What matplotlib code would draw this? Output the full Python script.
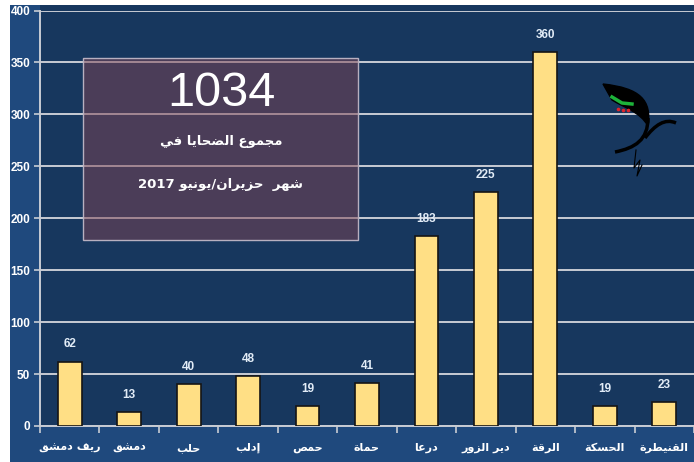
import re
import matplotlib
matplotlib.use("Agg")
import matplotlib.pyplot as plt
from matplotlib.patches import Rectangle, PathPatch
from matplotlib.path import Path
from matplotlib.lines import Line2D

# ---------------- data ----------------
categories = ["ريف دمشق", "دمشق", "حلب", "إدلب", "حمص", "حماة",
              "درعا", "دير الزور", "الرقة", "الحسكة", "القنيطرة"]
values = [62, 13, 40, 48, 19, 41, 183, 225, 360, 19, 23]
yticks = [0, 50, 100, 150, 200, 250, 300, 350, 400]
total_text = "1034"
box_line1 = "مجموع الضحايا في"
box_line2 = "شهر  حزيران/يونيو 2017"

# ---------------- minimal Arabic shaping (presentation forms) ----------------
FORMS = {
    '\u0622': (0xFE81, 2), '\u0623': (0xFE83, 2), '\u0625': (0xFE87, 2),
    '\u0627': (0xFE8D, 2), '\u0628': (0xFE8F, 4), '\u0629': (0xFE93, 2),
    '\u062A': (0xFE95, 4), '\u062B': (0xFE99, 4), '\u062C': (0xFE9D, 4),
    '\u062D': (0xFEA1, 4), '\u062E': (0xFEA5, 4), '\u062F': (0xFEA9, 2),
    '\u0630': (0xFEAB, 2), '\u0631': (0xFEAD, 2), '\u0632': (0xFEAF, 2),
    '\u0633': (0xFEB1, 4), '\u0634': (0xFEB5, 4), '\u0635': (0xFEB9, 4),
    '\u0636': (0xFEBD, 4), '\u0637': (0xFEC1, 4), '\u0638': (0xFEC5, 4),
    '\u0639': (0xFEC9, 4), '\u063A': (0xFECD, 4), '\u0641': (0xFED1, 4),
    '\u0642': (0xFED5, 4), '\u0643': (0xFED9, 4), '\u0644': (0xFEDD, 4),
    '\u0645': (0xFEE1, 4), '\u0646': (0xFEE5, 4), '\u0647': (0xFEE9, 4),
    '\u0648': (0xFEED, 2), '\u0649': (0xFEEF, 2), '\u064A': (0xFEF1, 4),
}
LAMALEF = {'\u0622': (0xFEF5, 0xFEF6), '\u0623': (0xFEF7, 0xFEF8),
           '\u0625': (0xFEF9, 0xFEFA), '\u0627': (0xFEFB, 0xFEFC)}


def shape(s):
    res = []
    n = len(s)
    i = 0
    while i < n:
        c = s[i]
        if c not in FORMS:
            res.append(c)
            i += 1
            continue
        prev = s[i - 1] if i > 0 else None
        jp = prev in FORMS and FORMS[prev][1] == 4
        nxt = s[i + 1] if i + 1 < n else None
        if c == '\u0644' and nxt in LAMALEF:
            iso, fin = LAMALEF[nxt]
            res.append(chr(fin if jp else iso))
            i += 2
            continue
        jn = FORMS[c][1] == 4 and nxt in FORMS
        base = FORMS[c][0]
        if jp and jn:
            code = base + 3
        elif jp:
            code = base + 1
        elif jn:
            code = base + 2
        else:
            code = base
        res.append(chr(code))
        i += 1
    vis = ''.join(res)[::-1]
    return re.sub(r'[0-9A-Za-z]+', lambda m: m.group(0)[::-1], vis)


# ---------------- style ----------------
FIG_BLUE = '#1F497D'
PLOT_BLUE = '#17375E'
BAR = '#FFDF85'
GRID = '#C8CCD4'
LATIN = ['Liberation Sans', 'DejaVu Sans']
ARABIC = ['DejaVu Sans']

W, H = 694, 462
fig = plt.figure(figsize=(W / 100, H / 100), dpi=100, facecolor='white')
fig.patches.append(Rectangle((10 / W, 0), 1 - 10 / W, 1 - 5 / H,
                             transform=fig.transFigure, facecolor=FIG_BLUE,
                             edgecolor='none', zorder=-5))
# dark plot-area strip above the 400 line
fig.patches.append(Rectangle((40 / W, 1 - 11 / H), 654 / W, 6 / H,
                             transform=fig.transFigure, facecolor=PLOT_BLUE,
                             edgecolor='none', zorder=-4))

ax = fig.add_axes([40 / W, 36 / H, 654 / W, 415.5 / H], zorder=1)
ax.set_facecolor(PLOT_BLUE)
x = list(range(len(categories)))
bars = ax.bar(x, values, width=0.40, color=BAR, edgecolor='#151515',
              linewidth=1.2, zorder=3)
for xi, v in zip(x, values):
    ax.annotate(str(v), (xi, v), xytext=(0, 8), textcoords='offset points',
                ha='center', va='bottom', color='#E2ECF7', fontsize=8.5,
                fontweight='bold', family=LATIN, zorder=4)

ax.set_xlim(-0.5, len(categories) - 0.5)
ax.set_ylim(0, 400)
ax.set_yticks(yticks)
ax.set_yticklabels([str(t) for t in yticks], color='white', fontsize=8.5,
                   fontweight='bold', family=LATIN)
ax.yaxis.grid(True, color=GRID, linewidth=1.4, zorder=1)
ax.set_axisbelow(True)
ax.tick_params(axis='y', length=4, width=1.2, color=GRID, pad=3)

ax.set_xticks(x)
ax.set_xticklabels([shape(c) for c in categories], color='white',
                   fontsize=8, fontweight='bold', family=ARABIC)
ax.set_xticks([i - 0.5 for i in range(len(categories) + 1)], minor=True)
ax.tick_params(axis='x', which='major', length=0, pad=12)
ax.tick_params(axis='x', which='minor', length=5, width=1.2, color=GRID,
               direction='out')

for side in ['top', 'right']:
    ax.spines[side].set_visible(False)
ax.spines['left'].set_color(GRID)
ax.spines['left'].set_linewidth(1.4)
ax.spines['bottom'].set_color(GRID)
ax.spines['bottom'].set_linewidth(1.4)

# ---------------- summary box ----------------
box = Rectangle((83 / W, 1 - 240 / H), 275 / W, 182 / H,
                transform=fig.transFigure, facecolor='#7F4453', alpha=0.5,
                edgecolor='none', zorder=5)
fig.patches.append(box)
fig.patches.append(Rectangle((83 / W, 1 - 240 / H), 275 / W, 182 / H,
                             transform=fig.transFigure, facecolor='none',
                             edgecolor='#B8B0C0', linewidth=1.0, zorder=6))
fig.text(221 / W, 1 - 93 / H, total_text, ha='center', va='center',
         color='white', fontsize=35, family=LATIN, zorder=7)
fig.text(221 / W, 1 - 142 / H, shape(box_line1), ha='center', va='center',
         color='white', fontsize=9.5, fontweight='bold', family=ARABIC, zorder=7)
fig.text(221 / W, 1 - 185 / H, shape(box_line2), ha='center', va='center',
         color='white', fontsize=9.5, fontweight='bold', family=ARABIC, zorder=7)

# ---------------- decorative logo (rough) ----------------
def fp(px, py):
    return (px / W, 1 - py / H)

wing = Path([fp(603, 84), fp(640, 88), fp(652, 100), fp(648, 126),
             fp(640, 112), fp(625, 108), fp(612, 100), fp(603, 84)],
            [Path.MOVETO, Path.CURVE4, Path.CURVE4, Path.CURVE4,
             Path.CURVE4, Path.CURVE4, Path.CURVE4, Path.CLOSEPOLY])
fig.patches.append(PathPatch(wing, transform=fig.transFigure,
                             facecolor='black', edgecolor='black', lw=1, zorder=8))
body = Path([fp(648, 118), fp(648, 140), fp(635, 148), fp(615, 152)],
            [Path.MOVETO, Path.CURVE4, Path.CURVE4, Path.CURVE4])
fig.patches.append(PathPatch(body, transform=fig.transFigure,
                             facecolor='none', edgecolor='black', lw=2.5, zorder=8))
neck = Path([fp(645, 138), fp(655, 125), fp(665, 118), fp(676, 123)],
            [Path.MOVETO, Path.CURVE4, Path.CURVE4, Path.CURVE4])
fig.patches.append(PathPatch(neck, transform=fig.transFigure,
                             facecolor='none', edgecolor='black', lw=2.5, zorder=8))
fig.add_artist(Line2D([612 / W, 622 / W, 632 / W],
                      [1 - 97 / H, 1 - 103 / H, 1 - 104 / H],
                      transform=fig.transFigure, color='#1DB33A', lw=2.5, zorder=9))
fig.add_artist(Line2D([618 / W, 623 / W, 628 / W],
                      [1 - 109 / H, 1 - 110 / H, 1 - 110 / H],
                      transform=fig.transFigure, color='#E0242A', lw=0,
                      marker='o', markersize=1.6, zorder=9))
fig.add_artist(Line2D([636 / W, 634 / W, 640 / W, 637 / W, 642 / W],
                      [1 - 150 / H, 1 - 168 / H, 1 - 160 / H, 1 - 176 / H, 1 - 165 / H],
                      transform=fig.transFigure, color='black', lw=0.8, zorder=9))

fig.savefig('out.png', dpi=100, facecolor='white')
